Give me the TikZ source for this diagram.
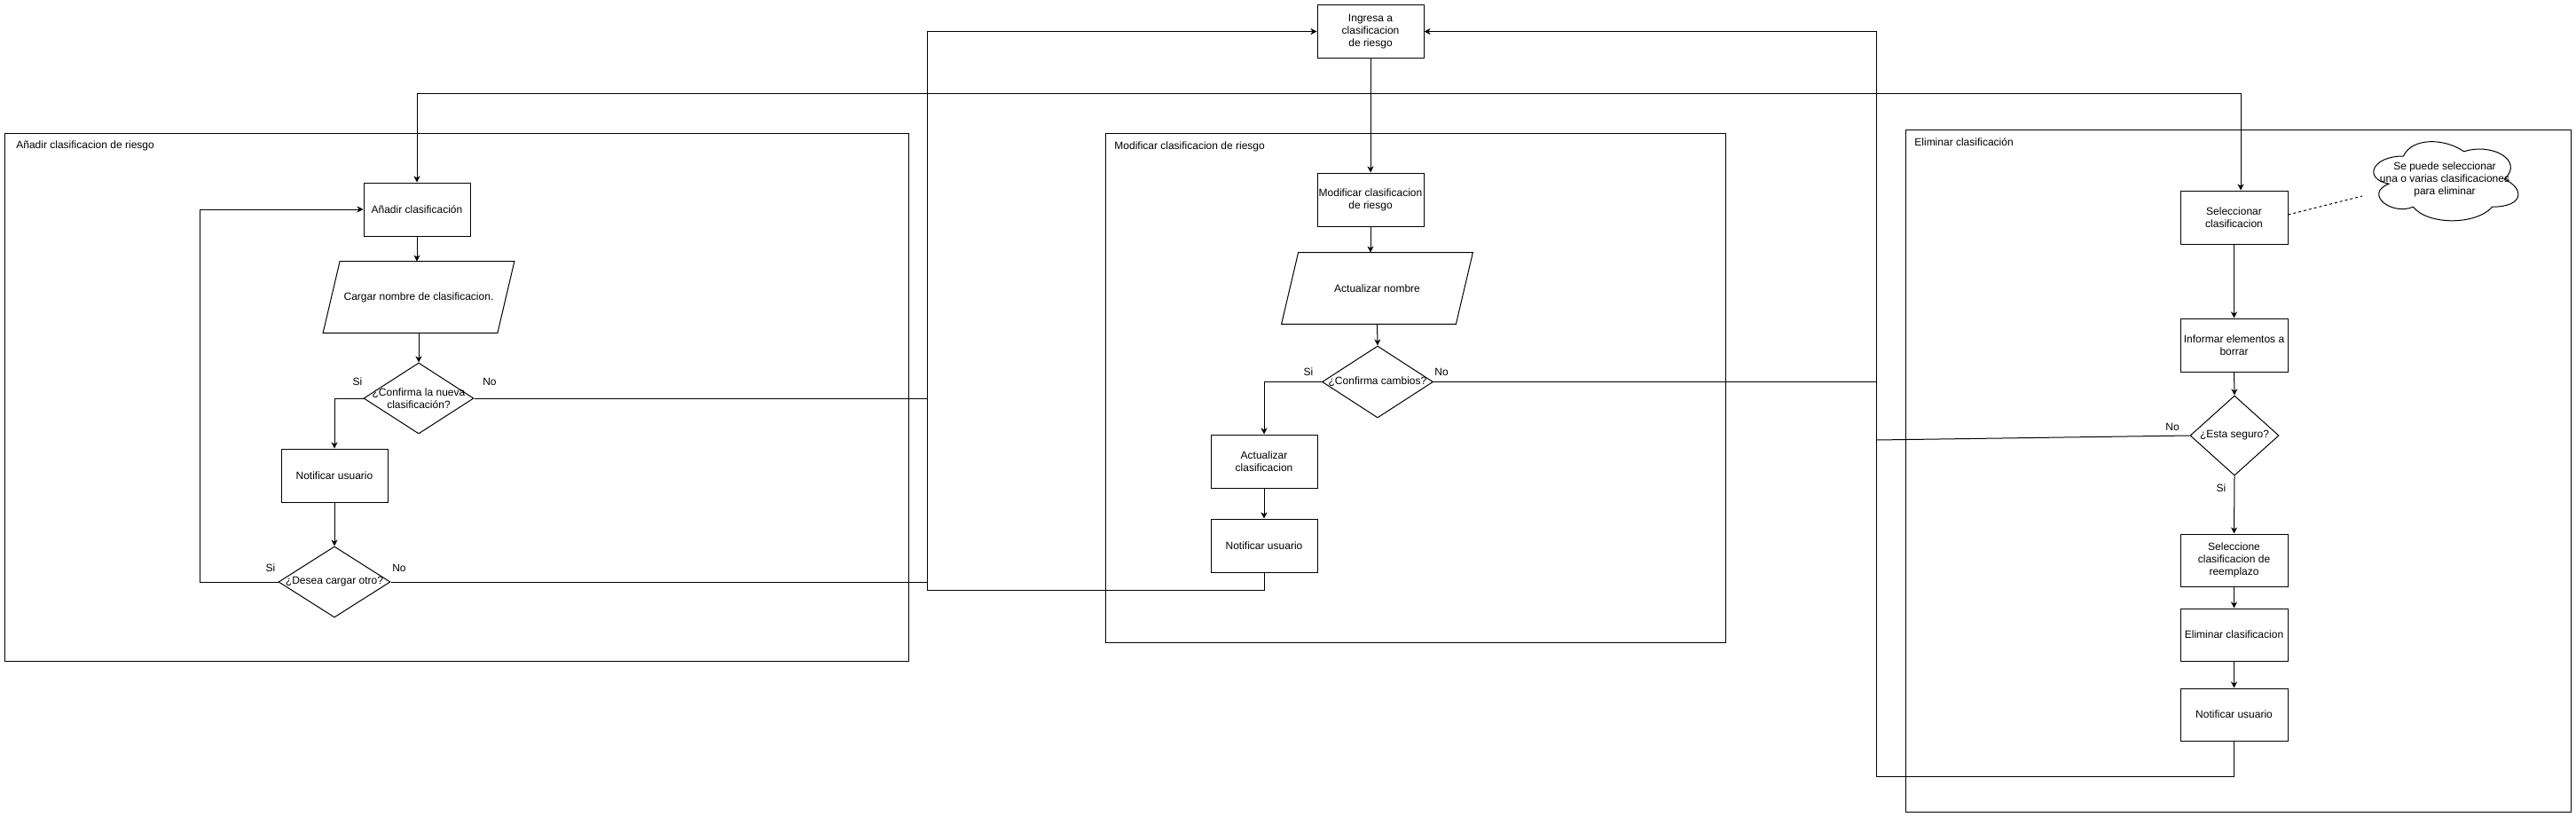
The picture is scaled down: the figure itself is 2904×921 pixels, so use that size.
\documentclass[tikz,border=0pt]{standalone}
\usepackage{fontspec}
\setmainfont{Liberation Sans}
\usetikzlibrary{shapes.geometric,arrows.meta}
\begin{document}
\begin{tikzpicture}[x=0.5pt,y=-0.5pt,
  every node/.style={font=\fontsize{6}{7}\selectfont},
  ln/.style={line width=0.5pt},
  arr/.style={line width=0.5pt,-{Stealth[length=3.5pt,width=3.5pt,inset=1pt]}},
  box/.style={draw,line width=0.5pt,minimum width=60pt,minimum height=30pt,inner sep=0pt,align=center},
  cont/.style={draw,line width=0.5pt,inner sep=0pt},
  dia/.style={draw,diamond,line width=0.5pt,inner sep=0pt},
  para/.style={inner sep=0pt,minimum width=107.5pt,minimum height=40pt,align=center},
  txt/.style={inner sep=0pt,align=center},
  ctitle/.style={inner sep=0pt,anchor=west}]
\useasboundingbox[fill=white] (0,0) rectangle (2904,921);

% containers
\node[cont,minimum width=509.25pt,minimum height=297.5pt] (contA) at (514.75,447.5) {};
\node[cont,minimum width=349.5pt,minimum height=287pt] (contM) at (1595.5,437) {};
\node[cont,minimum width=375pt,minimum height=384.5pt] (contE) at (2523,530.5) {};
\node[ctitle] (tA) at (18,164) {Añadir clasificacion de riesgo};
\node[ctitle] (tM) at (1256,165) {Modificar clasificacion de riesgo};
\node[ctitle] (tE) at (2158,160) {Eliminar clasificación};

% top node
\node[box] (ing) at (1545,35.5) {Ingresa a\\clasificacion\\de riesgo};

% Modificar
\node[box] (modc) at (1545,225) {Modificar clasificacion\\de riesgo};
\node[para] (actn) at (1552.5,325) {Actualizar nombre};
\draw[ln] (actn.south west) -- ([xshift=9.5pt]actn.north west) -- (actn.north east) -- ([xshift=-9.5pt]actn.south east) -- cycle;
\node[dia,minimum width=62.5pt,minimum height=40.5pt] (dcm) at (1553,430.5) {};
\node[txt] (dcmt) at (dcm.center) {¿Confirma cambios?};
\node[box] (actc) at (1425,520) {Actualizar\\clasificacion};
\node[box] (notm) at (1425,615) {Notificar usuario};

% Añadir
\node[box] (anad) at (470,236) {Añadir clasificación};
\node[para] (carg) at (472,335) {Cargar nombre de clasificacion.};
\draw[ln] (carg.south west) -- ([xshift=9.5pt]carg.north west) -- (carg.north east) -- ([xshift=-9.5pt]carg.south east) -- cycle;
\node[dia,minimum width=62pt,minimum height=40pt] (dcn) at (472,449) {};
\node[txt] (dcnt) at (dcn.center) {¿Confirma la nueva\\clasificación?};
\node[box] (nota) at (377,536) {Notificar usuario};
\node[dia,minimum width=63pt,minimum height=40pt] (dde) at (377,656) {};
\node[txt] (ddet) at (dde.center) {¿Desea cargar otro?};

% Eliminar
\node[box,minimum width=60.5pt] (sel) at (2518.5,245) {Seleccionar\\clasificacion};
\node[box,minimum width=60.5pt] (inf) at (2518.5,389) {Informar elementos a\\borrar};
\node[dia,minimum width=50pt,minimum height=45pt] (des) at (2519,491) {};
\node[txt] (dest) at (des.center) {¿Esta seguro?};
\node[box,minimum width=60.5pt,minimum height=29.5pt] (sce) at (2518.5,631.5) {Seleccione\\clasificacion de\\reemplazo};
\node[box,minimum width=60.5pt,minimum height=29.5pt] (eli) at (2518.5,715.5) {Eliminar clasificacion};
\node[box,minimum width=60.5pt,minimum height=29.5pt] (note) at (2518.5,805.5) {Notificar usuario};

% cloud
\draw[ln,fill=white] (2709.5,176)
  .. controls (2673.1,176) and (2664,202) .. (2693.1,207.2)
  .. controls (2664,218.6) and (2696.8,243.6) .. (2720.4,233.2)
  .. controls (2736.8,254) and (2791.4,254) .. (2809.6,233.2)
  .. controls (2846,233.2) and (2846,212.4) .. (2823.25,202)
  .. controls (2846,181.2) and (2809.6,160.4) .. (2777.75,170.8)
  .. controls (2755,155.2) and (2718.6,155.2) .. (2709.5,176) -- cycle;
\node[txt] (cloud) at (2756,202) {Se puede seleccionar\\una o varias clasificaciones\\para eliminar};
\coordinate (cl) at (2663,221);

% junction coordinates
\coordinate (j1) at (1545,105);
\coordinate (jl) at (1045,665);
\coordinate (jr) at (2115,875);
\coordinate (jd) at (2115,496);
\coordinate (jq) at (225,656);

% connectors
\draw[arr] (ing.south) -- (modc.north);
\draw[arr] (j1) -| (anad.north);
\draw[arr] (j1) -| ([xshift=3.75pt]sel.north);
\draw[arr] (modc.south) -- (modc.south |- actn.north);
\draw[arr] (actn.south) -- (dcm.north);
\draw[arr] (dcm.west) -| (actc.north);
\draw[arr] (actc.south) -- (notm.north);
\draw[arr] (notm.south) |- (jl) |- (ing.west);
\draw[ln] (dcn.east) -- (dcn.east -| jl);
\draw[ln] (dde.east) -- (dde.east -| jl);
\draw[ln] (dcm.east) -- (dcm.east -| jr);
\draw[arr] (note.south) |- (jr) |- (ing.east);
\draw[ln] (des.west) -- (jd);

\draw[arr] (anad.south) -- (anad.south |- carg.north);
\draw[arr] (carg.south) -- (dcn.north);
\draw[arr] (dcn.west) -| (nota.north);
\draw[arr] (nota.south) -- (dde.north);
\draw[arr] (dde.west) -- (jq) |- (anad.west);

\draw[arr] (sel.south) -- (inf.north);
\draw[arr] (inf.south) -- (des.north);
\draw[arr] (des.south) -- (sce.north);
\draw[arr] (sce.south) -- (eli.north);
\draw[arr] (eli.south) -- (note.north);
\draw[ln,dash pattern=on 1.5pt off 1.5pt] ([yshift=1.5pt]sel.east) -- (cl);

% edge labels
\node[txt] (l1) at (403,430) {Si};
\node[txt] (l2) at (552,430) {No};
\node[txt] (l3) at (305,640) {Si};
\node[txt] (l4) at (450,640) {No};
\node[txt] (l5) at (1475,419) {Si};
\node[txt] (l6) at (1625,419) {No};
\node[txt] (l7) at (2449,481) {No};
\node[txt] (l8) at (2504,550) {Si};
\end{tikzpicture}
\end{document}
